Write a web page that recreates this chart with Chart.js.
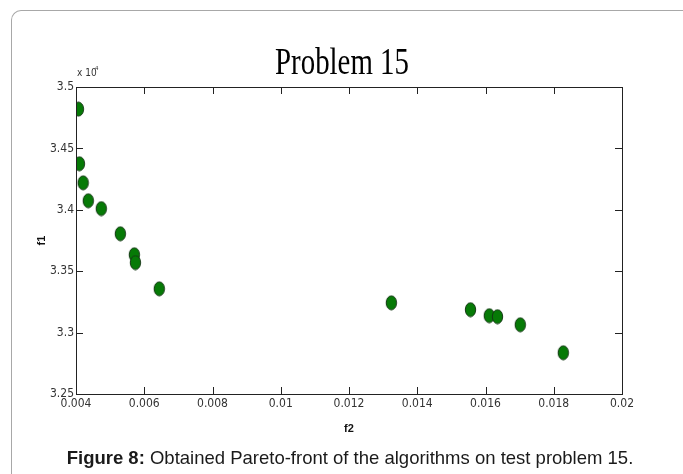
<!DOCTYPE html>
<html>
<head>
<meta charset="utf-8">
<script src="https://cdn.jsdelivr.net/npm/chart.js@4.4.1/dist/chart.umd.min.js"></script>
<style>
    body { margin: 0; background: #fff; }
    #wrap { position: relative; width: 683px; height: 474px; overflow: hidden; }
    #frame {
        position: absolute; left: 11px; top: 10px; width: 700px; height: 500px;
        border-left: 1px solid #a8a8a8; border-top: 1px solid #a8a8a8;
        border-top-left-radius: 10px;
    }
    #chart { position: absolute; left: 0; top: 0; }
    #caption {
        position: absolute; left: 0; width: 700px; top: 447px; text-align: center;
        font-family: "Liberation Sans", Arial, sans-serif; font-size: 18.5px; color: #1a1a1a;
        white-space: nowrap;
    }
</style>
</head>
<body>
<div id="wrap">
    <div id="frame"></div>
    <canvas id="chart" width="683" height="474"></canvas>
    <div id="caption"><b>Figure 8:</b> Obtained Pareto-front of the algorithms on test problem 15.</div>
</div>
<script>
// f2 values (x) and f1 values (y, in units of 10^4)
const f2 = [0.00407, 0.0041, 0.00421, 0.00436, 0.00474, 0.0053, 0.00571, 0.00574, 0.00644,
            0.01324, 0.01556, 0.01611, 0.01635, 0.01702, 0.01828];
const f1 = [3.482, 3.4375, 3.422, 3.4074, 3.401, 3.3805, 3.3634, 3.357, 3.3357,
            3.3243, 3.3187, 3.3138, 3.313, 3.3064, 3.2836];
const xTicks = [0.004, 0.006, 0.008, 0.01, 0.012, 0.014, 0.016, 0.018, 0.02];
const yTicks = [3.25, 3.3, 3.35, 3.4, 3.45, 3.5];

const points = f2.map((x, i) => ({ x: x, y: f1[i] }));

// ellipse marker like the matlab one
function makeMarker() {
    const c = document.createElement('canvas');
    c.width = 13;
    c.height = 16;
    const g = c.getContext('2d');
    g.beginPath();
    g.ellipse(6.5, 8, 5.2, 7, 0, 0, Math.PI * 2);
    g.fillStyle = '#067a06';
    g.fill();
    g.lineWidth = 1;
    g.strokeStyle = '#163816';
    g.stroke();
    return c;
}

function trim(v) {
    return String(Number(v.toFixed(4)));
}

const boxPlugin = {
    id: 'box',
    afterDraw(chart) {
        const ctx = chart.ctx;
        const a = chart.chartArea;
        const xs = chart.scales.x;
        const ys = chart.scales.y;
        ctx.save();
        ctx.strokeStyle = '#222';
        ctx.lineWidth = 1;
        ctx.strokeRect(Math.round(a.left) + 0.5, Math.round(a.top) + 0.5,
            Math.round(a.right - a.left), Math.round(a.bottom - a.top));
        const len = 7;
        ctx.beginPath();
        xTicks.slice(1, -1).forEach(v => {
            const px = Math.round(xs.getPixelForValue(v)) + 0.5;
            ctx.moveTo(px, a.bottom); ctx.lineTo(px, a.bottom - len);
            ctx.moveTo(px, a.top); ctx.lineTo(px, a.top + len);
        });
        yTicks.slice(1, -1).forEach(v => {
            const py = Math.round(ys.getPixelForValue(v)) + 0.5;
            ctx.moveTo(a.left, py); ctx.lineTo(a.left + len, py);
            ctx.moveTo(a.right, py); ctx.lineTo(a.right - len, py);
        });
        ctx.stroke();

        // exponent note
        ctx.fillStyle = '#333';
        ctx.textBaseline = 'alphabetic';
        ctx.font = '10px "Liberation Sans Narrow", "DejaVu Sans Condensed", sans-serif';
        ctx.fillText('x 10', a.left + 1, a.top - 11);
        ctx.font = '6px "Liberation Sans Narrow", sans-serif';
        ctx.fillText('4', a.left + 19, a.top - 17);

        // title, condensed serif
        ctx.fillStyle = '#000';
        ctx.font = '38px "Liberation Serif", "Times New Roman", serif';
        ctx.textAlign = 'center';
        ctx.translate(342, 74);
        ctx.scale(0.76, 1);
        ctx.fillText('Problem 15', 0, 0);
        ctx.restore();
    }
};

const tickFont = { family: '"Liberation Sans Narrow", "DejaVu Sans Condensed", sans-serif', size: 12 };

new Chart(document.getElementById('chart'), {
    type: 'scatter',
    data: {
        datasets: [{
            data: points,
            pointStyle: makeMarker(),
            pointRadius: 6,
            pointHoverRadius: 6
        }]
    },
    options: {
        responsive: false,
        animation: false,
        events: [],
        layout: { padding: { left: 0, right: 61, top: 87, bottom: 34 } },
        plugins: { legend: { display: false }, tooltip: { enabled: false } },
        scales: {
            x: {
                type: 'linear',
                min: 0.004,
                max: 0.02,
                afterBuildTicks: s => { s.ticks = xTicks.map(v => ({ value: v })); },
                afterFit: s => { s.height = 46; },
                grid: { display: false, drawTicks: false },
                border: { display: false },
                ticks: { color: '#333', font: tickFont, padding: 3, maxRotation: 0, autoSkip: false,
                         callback: v => trim(v) },
                title: { display: true, text: 'f2', color: '#111',
                         font: { family: '"Liberation Sans Narrow", sans-serif', size: 11, weight: 'bold' },
                         padding: { top: 0, bottom: 4 } }
            },
            y: {
                min: 3.25,
                max: 3.5,
                afterBuildTicks: s => { s.ticks = yTicks.map(v => ({ value: v })); },
                afterFit: s => { s.width = 76; },
                grid: { display: false, drawTicks: false },
                border: { display: false },
                ticks: { color: '#333', font: tickFont, padding: 2, autoSkip: false,
                         callback: v => trim(v) },
                title: { display: true, text: 'f1', color: '#111',
                         font: { family: '"Liberation Sans Narrow", sans-serif', size: 11, weight: 'bold' },
                         padding: { top: 35, bottom: 0 } }
            }
        }
    },
    plugins: [boxPlugin]
});
</script>
</body>
</html>
